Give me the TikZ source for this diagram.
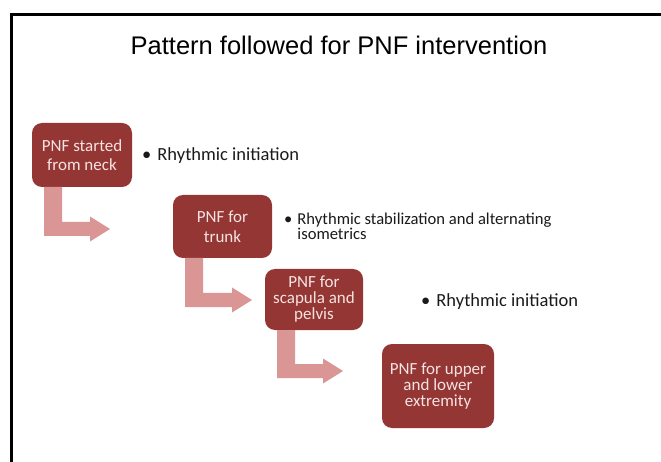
\documentclass[tikz,border=0pt]{standalone}
\usepackage{fontspec}
\setmainfont{Carlito}
\newfontfamily\titlefont{Liberation Sans}
\usetikzlibrary{calc}
\definecolor{boxred}{HTML}{943634}
\definecolor{arrowpink}{HTML}{D99694}
\definecolor{boxtext}{HTML}{F5E3E2}
\definecolor{bodytext}{HTML}{1A1A1A}
\tikzset{
  stepbox/.style={fill=boxred, rounded corners=10pt, text=boxtext, align=center,
    inner sep=0pt, font=\fontsize{17}{19.5}\selectfont},
  tightbox/.style={stepbox, font=\fontsize{17}{16}\selectfont},
  bullettext/.style={anchor=west, text=bodytext, inner sep=0pt, align=left,
    font=\fontsize{16.6}{15}\selectfont},
  bentarrow/.style={fill=arrowpink},
  frameline/.style={line width=3pt, black},
}
\newcommand{\bentarrowshape}[4]{% #1 stem left x, #2 top y, #3 center y, #4 head base x ; tip at (#4+20)
  \fill[bentarrow] (#1,#2) -- (#1+18,#2) -- (#1+18,#3-7) -- (#4,#3-7) -- (#4,#3-12.5)
    -- (#4+20,#3) -- (#4,#3+12.5) -- (#4,#3+7) -- (#1,#3+7) -- cycle;}
\begin{document}
\begin{tikzpicture}[x=1pt,y=-1pt]
\useasboundingbox (0,0) rectangle (661,462);
\fill[white] (0,0) rectangle (661,462);
% frame
\draw[frameline] (11.5,462) -- (11.5,14.5) -- (661,14.5);
% title
\node[font=\titlefont\fontsize{25.5}{28}\selectfont, text=black] (title) at (339,45) {Pattern followed for PNF intervention};
% boxes
\node[stepbox, minimum width=100pt, minimum height=64pt] (b1) at (82,155) {PNF started\\from neck};
\node[stepbox, minimum width=99pt, minimum height=63pt] (b2) at (222.5,226.5) {PNF for\\trunk};
\node[tightbox, minimum width=98pt, minimum height=61pt] (b3) at (314,299.5) {PNF for\\scapula and\\pelvis};
\node[tightbox, minimum width=112pt, minimum height=84pt] (b4) at (438,386) {PNF for upper\\and lower\\extremity};
% bent arrows
\bentarrowshape{44}{187}{229}{90}
\bentarrowshape{185}{258}{300}{232}
\bentarrowshape{277}{330}{371}{323}
\coordinate (t1) at (110,229);
\coordinate (t2) at (252,300);
\coordinate (t3) at (343,371);
% bullets
\node[bullettext, font=\fontsize{18.5}{20}\selectfont] (l1) at (142,156) {\textbullet\hspace{6pt}Rhythmic initiation};
\node[bullettext] (l2) at (284,226) {\textbullet\hspace{5pt}Rhythmic stabilization and alternating\\\phantom{\textbullet\hspace{5pt}}isometrics};
\node[bullettext, font=\fontsize{18.5}{20}\selectfont] (l3) at (421,302) {\textbullet\hspace{6pt}Rhythmic initiation};
\end{tikzpicture}
\end{document}
